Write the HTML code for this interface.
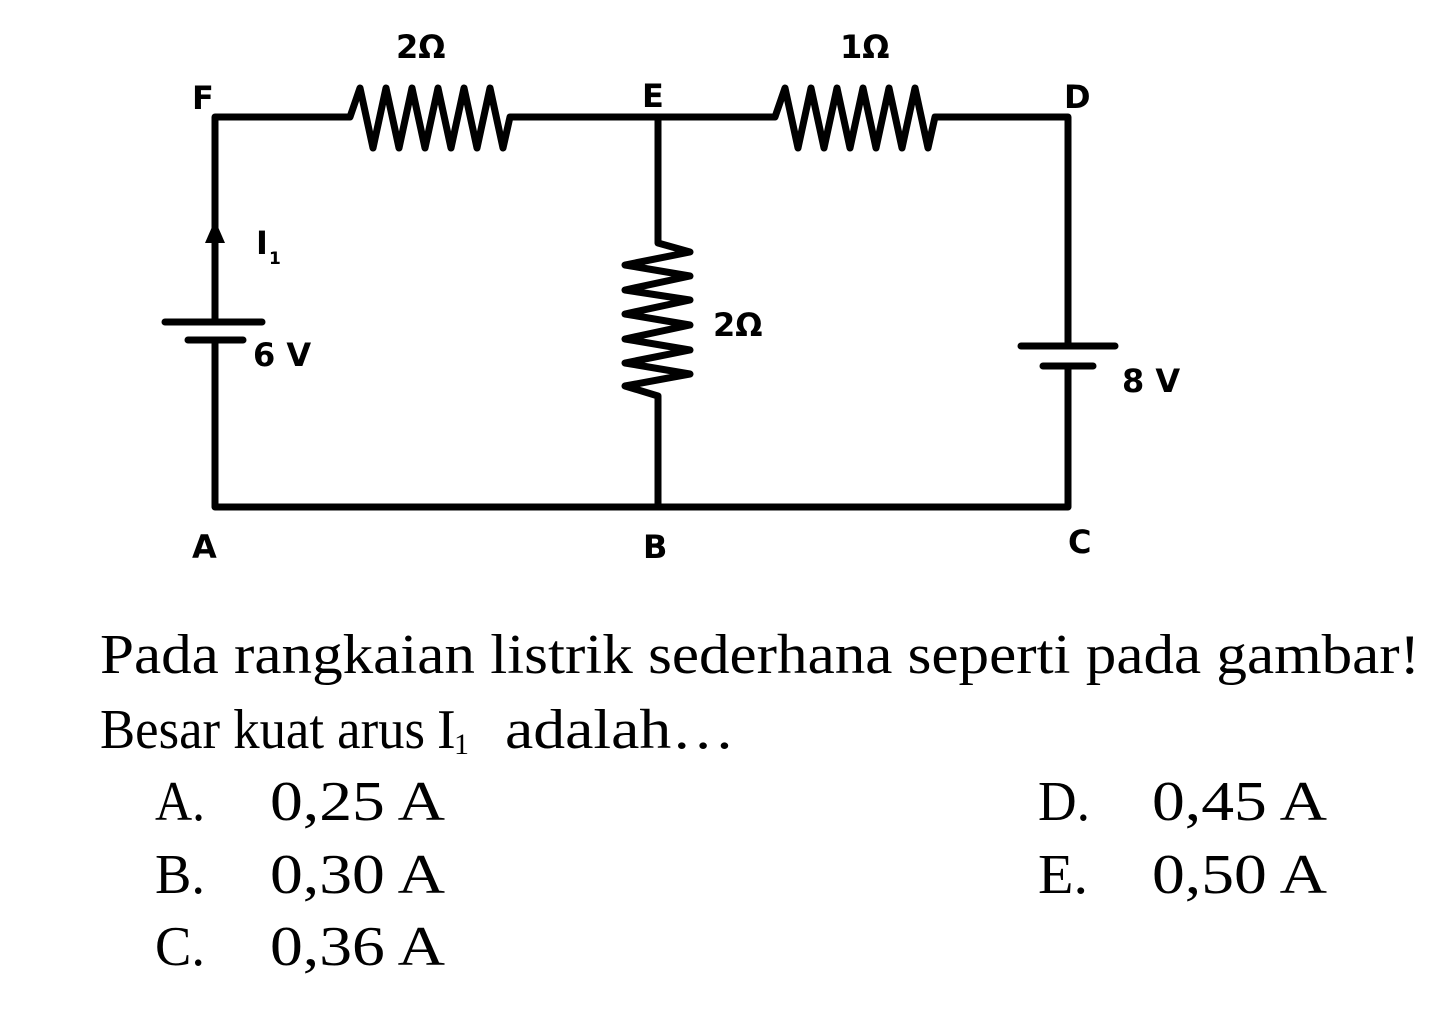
<!DOCTYPE html>
<html><head><meta charset="utf-8"><style>body{margin:0;background:#fff}svg{display:block}</style></head>
<body>
<svg width="1452" height="1013" viewBox="0 0 1452 1013" xmlns="http://www.w3.org/2000/svg">
<g fill="none" stroke="#000" stroke-width="7" stroke-linejoin="round" stroke-linecap="round">
<path d="M215 322 V117 H350 L360 88 L373 148 L386 88 L399 148 L412 88 L425 148 L438 88 L451 148 L464 88 L477 148 L490 88 L503 148 L510 117 H775 L785 88 L798 148 L811 88 L824 148 L837 88 L850 148 L863 88 L876 148 L889 88 L902 148 L915 88 L928 148 L935 117 H1068 V346"/>
<path d="M658 117 V243 L690 252 L625 265 L690 276 L625 290 L690 300 L625 314 L690 325 L625 339 L690 350 L625 363 L690 374 L625 386 L658 396 V507"/>
<path d="M215 340 V507 H1068 V366"/>
<path d="M165 322 H262" />
<path d="M188 340 H243" />
<path d="M1021 346 H1115" />
<path d="M1043 366 H1093" />
</g>
<polygon points="215,220 205,243 225,243" fill="#000"/>
<g font-family="'DejaVu Sans','Liberation Sans',sans-serif" font-weight="bold" font-size="32" fill="#000">
<text x="192" y="109">F</text>
<text x="642" y="107">E</text>
<text x="1064" y="108">D</text>
<text x="192" y="558">A</text>
<text x="643" y="558">B</text>
<text x="1068" y="553">C</text>
<text x="396" y="58">2Ω</text>
<text x="840" y="58">1Ω</text>
<text x="713" y="336">2Ω</text>
<text x="253" y="366">6 V</text>
<text x="1122" y="392">8 V</text>
<text x="256" y="254">I</text>
<text x="269" y="264" font-size="17">1</text>
</g>
<g font-family="'Liberation Serif',serif" font-size="56" fill="#000">
<text x="100" y="673" textLength="1320" lengthAdjust="spacingAndGlyphs">Pada rangkaian listrik sederhana seperti pada gambar!</text>
<text x="100" y="748" textLength="325" lengthAdjust="spacingAndGlyphs">Besar kuat arus</text>
<text x="437" y="748">I</text>
<text x="454" y="754" font-size="30">1</text>
<text x="505" y="748" textLength="230" lengthAdjust="spacingAndGlyphs">adalah…</text>
<text x="155" y="820" textLength="50" lengthAdjust="spacingAndGlyphs">A.</text><text x="270" y="820" textLength="175" lengthAdjust="spacingAndGlyphs">0,25 A</text>
<text x="155" y="893" textLength="50" lengthAdjust="spacingAndGlyphs">B.</text><text x="270" y="893" textLength="175" lengthAdjust="spacingAndGlyphs">0,30 A</text>
<text x="155" y="965" textLength="50" lengthAdjust="spacingAndGlyphs">C.</text><text x="270" y="965" textLength="175" lengthAdjust="spacingAndGlyphs">0,36 A</text>
<text x="1038" y="820" textLength="52" lengthAdjust="spacingAndGlyphs">D.</text><text x="1152" y="820" textLength="175" lengthAdjust="spacingAndGlyphs">0,45 A</text>
<text x="1038" y="893" textLength="50" lengthAdjust="spacingAndGlyphs">E.</text><text x="1152" y="893" textLength="175" lengthAdjust="spacingAndGlyphs">0,50 A</text>
</g>
</svg>
</body></html>
